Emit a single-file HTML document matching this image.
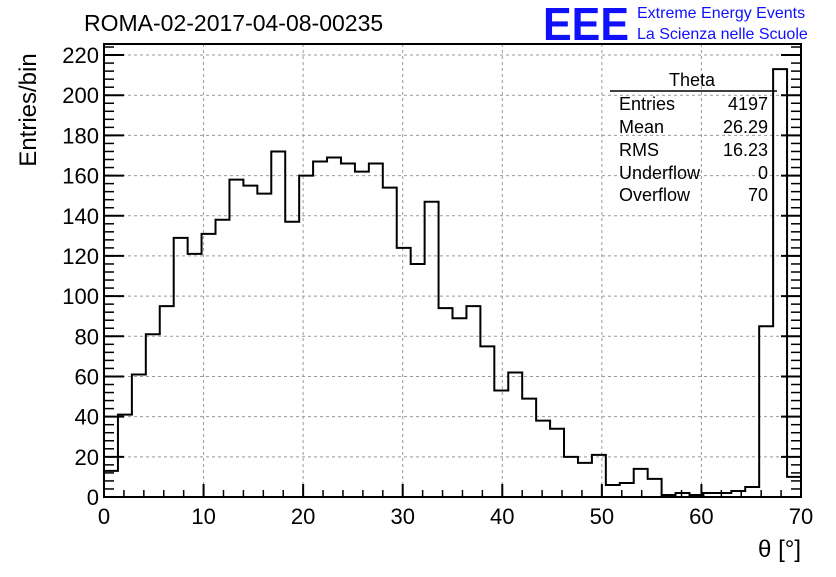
<!DOCTYPE html>
<html><head><meta charset="utf-8"><style>
body{margin:0;background:#fff;width:836px;height:572px;overflow:hidden;font-family:"Liberation Sans",sans-serif}
</style></head><body>
<svg width="836" height="572" xmlns="http://www.w3.org/2000/svg" font-family="Liberation Sans, sans-serif">
<text x="84" y="31" font-size="23">ROMA-02-2017-04-08-00235</text>
<text x="543" y="40" font-size="46" fill="#1010ff" font-weight="bold" textLength="86" lengthAdjust="spacingAndGlyphs">EEE</text>
<text x="637" y="18" font-size="16" fill="#1010ff">Extreme Energy Events</text>
<text x="637" y="39" font-size="16" fill="#1010ff">La Scienza nelle Scuole</text>
<g id="grid"></g>
<g id="axes"></g>
<path id="hist" fill="none" stroke="#000" stroke-width="2"></path>
<g font-size="18">
<text x="692" y="86" text-anchor="middle">Theta</text>
<line x1="610" y1="91" x2="777" y2="91" stroke="#000" stroke-width="1.5"/>
<text x="619" y="110">Entries</text><text x="768" y="110" text-anchor="end">4197</text>
<text x="619" y="133">Mean</text><text x="768" y="133" text-anchor="end">26.29</text>
<text x="619" y="156">RMS</text><text x="768" y="156" text-anchor="end">16.23</text>
<text x="619" y="179">Underflow</text><text x="768" y="179" text-anchor="end">0</text>
<text x="619" y="201">Overflow</text><text x="768" y="201" text-anchor="end">70</text>
</g>
<text x="36" y="110" font-size="24" transform="rotate(-90 36 110)" text-anchor="middle">Entries/bin</text>
<text x="801" y="557" font-size="24" text-anchor="end">θ [°]</text>
</svg>
<script>
const binCounts=[13,41,61,81,95,129,121,131,138,158,155,151,172,137,160,167,169,166,162,166,154,124,116,147,94,89,95,75,53,62,49,38,34,20,17,21,6,7,14,9,1,2,1,2,2,3,5,85,213,10];
const xTicks=[0,10,20,30,40,50,60,70];
const yTicks=[0,20,40,60,80,100,120,140,160,180,200,220];
const xMin=0,xMax=70,yMax=225.5;
const L=104,R=801,T=44,B=497;
const sx=v=>L+(v-xMin)/(xMax-xMin)*(R-L);
const sy=v=>B-v/yMax*(B-T);
const NS="http://www.w3.org/2000/svg";
function mk(tag,attrs,parent){const e=document.createElementNS(NS,tag);for(const k in attrs)e.setAttribute(k,attrs[k]);parent.appendChild(e);return e;}
const grid=document.getElementById('grid'),axes=document.getElementById('axes');
xTicks.forEach(t=>{if(t>xMin&&t<xMax){const l=mk('line',{x1:sx(t),x2:sx(t),y1:T,y2:B,stroke:'#999','stroke-dasharray':'3,3'},grid);

}
const tx=mk('text',{x:sx(t),y:B+27,'font-size':22,'text-anchor':'middle'},axes);tx.textContent=t;


mk('line',{x1:sx(t),x2:sx(t),y1:B,y2:B-13,stroke:'#000','stroke-width':2},axes);});
for(let v=xMin;v<=xMax;v+=2){mk('line',{x1:sx(v),x2:sx(v),y1:B,y2:B-7,stroke:'#000','stroke-width':1.5},axes);}
yTicks.forEach(t=>{if(t>0){const l=mk('line',{x1:L,x2:R,y1:sy(t),y2:sy(t),stroke:'#999','stroke-dasharray':'3,3'},grid);

}
const tx=mk('text',{x:L-5,y:sy(t)+8,'font-size':22,'text-anchor':'end'},axes);tx.textContent=t;


mk('line',{x1:L,x2:L+20,y1:sy(t),y2:sy(t),stroke:'#000','stroke-width':2},axes);
mk('line',{x1:R,x2:R-20,y1:sy(t),y2:sy(t),stroke:'#000','stroke-width':2},axes);});
for(let v=0;v<=yMax;v+=4){mk('line',{x1:L,x2:L+10,y1:sy(v),y2:sy(v),stroke:'#000','stroke-width':1.5},axes);mk('line',{x1:R,x2:R-10,y1:sy(v),y2:sy(v),stroke:'#000','stroke-width':1.5},axes);}
const fr=mk('rect',{x:L,y:T,width:R-L,height:B-T,fill:'none',stroke:'#000','stroke-width':2},axes);


const w=(xMax-xMin)/binCounts.length;
let d='M'+sx(xMin)+','+sy(0);
binCounts.forEach((c,i)=>{d+=' L'+sx(xMin+i*w)+','+sy(c)+' L'+sx(xMin+(i+1)*w)+','+sy(c);});
d+=' L'+sx(xMax)+','+sy(0);
document.getElementById('hist').setAttribute('d',d);
</script>
</body></html>
